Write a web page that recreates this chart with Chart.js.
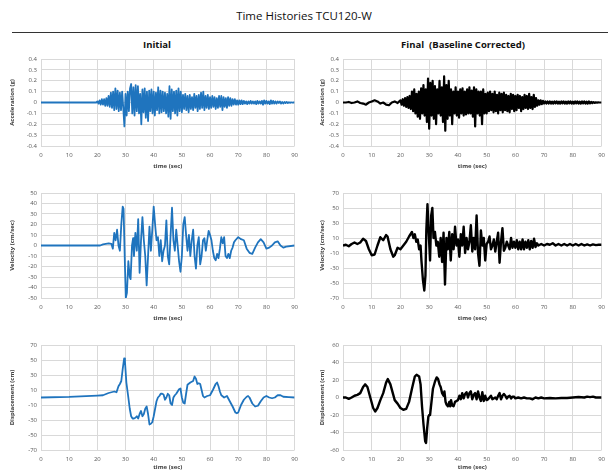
<!DOCTYPE html>
<html><head><meta charset="utf-8">
<script src="https://cdn.jsdelivr.net/npm/chart.js@4"></script>
<style>
html,body{margin:0;padding:0;background:#fff;}
body{width:608px;height:471px;position:relative;overflow:hidden;font-family:"Open Sans",sans-serif;}
.t{position:absolute;white-space:nowrap;color:#111;}
canvas{position:absolute;}
#hr{position:absolute;left:12px;top:32px;width:596px;height:0;border-top:1.5px solid #333;}
</style></head><body>
<div class="t" id="title" style="left:0;width:608px;text-align:center;top:8px;font-size:11.5px;">Time Histories TCU120-W</div>
<div id="hr"></div>
<div class="t" style="left:57px;width:200px;text-align:center;top:38px;font-size:9.5px;font-weight:bold;">Initial</div>
<div class="t" style="left:363px;width:200px;text-align:center;top:38px;font-size:9.5px;font-weight:bold;">Final&nbsp; (Baseline Corrected)</div>
<canvas id="c1"></canvas><canvas id="c2"></canvas>
<canvas id="c3"></canvas><canvas id="c4"></canvas>
<canvas id="c5"></canvas><canvas id="c6"></canvas>
<script>
// ---------- DATA ----------
const timeTicks = [0,10,20,30,40,50,60,70,80,90];

// Initial acceleration (g): zero before 20 s, then samples every 0.4 s from 20 s
const accInitLead = [[0,0],[19.6,0]];
const accInitStart = 20, accInitDt = 0.4;
const accInitVals = [
 0.01,-0.01,0.02,-0.02,0.03,-0.02,0.03,-0.03,0.04,-0.03,
 0.06,-0.04,0.09,-0.05,0.1,-0.07,0.13,-0.06,0.11,-0.08,
 0.09,-0.07,0.1,-0.05,-0.22,0.08,-0.12,0.1,-0.08,0.13,
 0.17,-0.1,0.14,-0.12,0.16,-0.08,0.15,-0.1,0.08,-0.2,
 0.12,-0.09,0.13,-0.14,0.1,-0.17,0.11,-0.08,0.12,-0.1,
 0.1,-0.12,0.09,-0.07,0.14,-0.1,0.11,-0.09,0.1,-0.08,
 0.09,-0.1,0.08,-0.13,0.15,-0.15,0.12,-0.08,0.1,-0.1,
 0.11,-0.12,0.13,-0.08,0.1,-0.09,0.07,-0.06,0.08,-0.07,
 0.06,-0.09,0.07,-0.06,0.05,-0.07,0.08,-0.05,0.06,-0.08,
 0.07,-0.06,0.09,-0.05,0.1,-0.07,0.06,-0.05,0.07,-0.06,
 0.05,-0.05,0.06,-0.04,0.05,-0.06,0.04,-0.05,0.06,-0.04,
 0.06,-0.07,0.05,-0.04,0.04,-0.05,0.05,-0.03,0.04,-0.03,
 0.03,-0.02,0.03,-0.02,0.02,-0.02,0.02,-0.015,0.02,-0.015,
 0.015,-0.01,0.01,-0.015,0.01,-0.01,0.015,-0.01,0.01,-0.01,
 0.01,-0.015,0.015,-0.01,0.01,-0.01,0.015,-0.02,0.02,-0.01,
 0.015,-0.01,0.01,-0.015,0.02,-0.01,0.015,-0.01,0.01,-0.01,
 0.01,-0.005,0.01,-0.01,0.005,-0.01,0.005,-0.005,0.005,-0.005,
 0.003,-0.003,0.002,-0.002,0.001,0
];

// Final acceleration (g)
const accFinalLead = [[0,0],[1,0],[2,0.005],[3,-0.005],[4,0],[5,0.01],[6,-0.005],[7,-0.01],[8,-0.02],[9,0],
 [10,0.01],[11,0.02],[12,0.01],[13,-0.01],[14,0],[15,-0.02],[16,-0.025],[17,0],[18,0.01],[19,-0.005],[19.6,0.01]];
const accFinalStart = 20, accFinalDt = 0.4;
const accFinalVals = [
 0.02,-0.02,0.03,-0.03,0.04,-0.04,0.05,-0.05,0.06,-0.06,
 0.1,-0.08,0.12,-0.1,0.08,-0.13,0.1,-0.15,0.13,-0.1,
 0.16,-0.12,0.12,-0.18,0.22,-0.24,0.18,-0.12,0.2,-0.15,
 0.15,-0.2,0.12,-0.1,0.2,-0.12,0.14,-0.18,0.24,-0.26,
 0.16,-0.15,0.2,-0.12,0.12,-0.2,0.1,-0.1,0.14,-0.12,
 0.1,-0.14,0.12,-0.1,0.13,-0.12,0.1,-0.11,0.12,-0.1,
 0.14,-0.1,0.11,-0.13,0.14,-0.22,0.12,-0.1,0.1,-0.12,
 0.1,-0.2,0.12,-0.1,0.08,-0.1,0.09,-0.08,0.1,-0.07,
 0.08,-0.09,0.1,-0.08,0.07,-0.1,0.09,-0.07,0.08,-0.09,
 0.09,-0.07,0.07,-0.08,0.06,-0.09,0.08,-0.06,0.07,-0.08,
 0.06,-0.07,0.07,-0.05,0.06,-0.08,0.05,-0.06,0.07,-0.05,
 0.06,-0.06,0.08,-0.05,0.05,-0.06,0.07,-0.04,0.04,-0.03,
 0.02,-0.02,0.02,-0.015,0.015,-0.01,0.01,-0.01,0.01,-0.01,
 0.01,-0.01,0.008,-0.01,0.01,-0.008,0.01,-0.01,0.008,-0.01,
 0.01,-0.008,0.01,-0.01,0.008,-0.01,0.01,-0.008,0.01,-0.01,
 0.008,-0.01,0.01,-0.008,0.01,-0.01,0.008,-0.01,0.01,-0.008,
 0.01,-0.01,0.008,-0.01,0.01,-0.008,0.006,-0.006,0.004,-0.004,
 0.002,-0.002,0.001,0,0,0
];

// Initial velocity (cm/sec)
const velInit = [[0,0],[21,0],[22,1],[23,1.5],[24,2],[25,1.5],[25.5,-3],[26,12],[26.5,5],[27,15],[27.5,0],[28,-5],
 [28.5,20],[29,37],[29.3,35],[29.8,-20],[30.1,-50],[30.5,-45],[31,-15],[31.5,-30],[31.8,-32],[32.3,0],[32.7,7],
 [33,-10],[33.5,12],[34,-5],[34.5,25],[35,-26],[35.5,5],[36,27],[36.5,5],[37,-10],[37.5,-38],[38,-10],[38.5,18],
 [39,-5],[39.5,15],[40,37],[40.5,20],[41,5],[41.5,8],[42,-10],[42.5,5],[43,-15],[43.5,-5],[44,0],[44.5,24],
 [45,-10],[45.5,-18],[46,10],[46.5,36],[47,5],[47.5,-5],[48,15],[48.5,0],[49,-15],[49.5,-25],[50,-10],[50.5,20],
 [51,27],[51.5,10],[52,-5],[52.5,10],[53,-10],[53.5,5],[54,15],[54.5,-10],[55,-22],[55.5,0],[56,8],[56.5,-18],
 [57,-10],[57.5,5],[58,7],[58.5,-5],[59,5],[59.5,14],[60,10],[60.5,5],[61,-5],[61.5,-12],[62,-14],[62.5,-8],
 [63,-12],[63.5,-3],[64,8],[64.5,2],[65,8],[65.5,-10],[66,-12],[66.5,-8],[67,-12],[67.5,-5],[68,-2],[68.5,3],
 [69,5],[70,8],[71,6],[72,5],[73,-3],[74,-7],[75,-8],[76,-2],[77,3],[78,6],[79,3],[80,-3],[81,-2],[82,0],
 [83,3],[84,4],[85,0],[86,-2],[87,-1],[90,0]];

// Final velocity (cm/sec)
const velFinal = [[0,0],[1,1],[2,-1],[3,2],[4,4],[5,2],[6,4],[7,9],[8,6],[9,-5],[10,-13],[11,-12],[12,0],[13,11],
 [14,7],[15,14],[15.5,12],[16.5,-5],[17.5,-15],[18,-13],[19,-3],[20,-5],[21,0],[22,5],[23,12],[24,18],[24.5,10],
 [25,15],[25.5,5],[26,8],[26.5,-5],[27,0],[27.3,-20],[27.8,-45],[28.3,-60],[28.7,-40],[29,20],[29.4,55],[29.8,20],
 [30.3,-20],[30.7,40],[31.1,50],[31.5,10],[32,18],[32.5,0],[33,5],[33.5,-15],[34,10],[34.5,-22],[35,17],[35.5,-52],
 [36,10],[36.5,-5],[37,18],[37.5,-20],[38,15],[38.5,-5],[39,25],[39.5,0],[40,8],[40.5,-15],[41,15],[41.5,0],
 [42,25],[42.5,-10],[43,10],[43.5,-5],[44,5],[44.5,27],[45,-8],[45.5,10],[46,-5],[46.5,40],[47,-10],[47.5,-27],
 [48,20],[48.5,0],[49,10],[49.5,-20],[50,2],[50.5,5],[51,12],[51.5,-5],[52,0],[52.5,8],[53,-8],[53.5,5],[54,17],
 [54.5,-23],[55,5],[55.5,23],[56,-7],[56.5,-3],[57,5],[58,-5],[58.5,10],[59,-3],[59.5,5],[60,-3],[60.5,7],[61,-5],
 [61.5,5],[62,-5],[62.5,8],[63,-5],[63.5,5],[64,-3],[64.5,7],[65,-5],[65.5,6],[66,-3],[66.5,9],[67,-2],[67.5,3],
 [68,0],[69,2],[70,0],[71,2],[72,1],[73,3],[74,0],[75,2],[76,0],[77,2],[78,0],[79,2],[80,0],[81,2],[82,0],[83,2],
 [84,0],[85,1.5],[86,0],[87,1.5],[88,0.5],[89,1],[90,1]];

// Initial displacement (cm)
const dispInit = [[0,0],[10,0.8],[20,2.5],[22,3],[24,6],[26,8],[26.8,7],[27.5,15],[28,18],[28.5,22],[29,38],
 [29.5,52],[29.8,48],[30.3,20],[31,0],[31.5,-15],[32,-25],[32.5,-28],[33,-28],[33.5,-27],[34,-25],[34.5,-28],
 [35,-22],[35.5,-18],[36,-25],[36.5,-22],[37,-15],[37.5,-12],[38,-22],[38.5,-36],[39,-35],[39.5,-33],[40,-25],
 [41,-5],[41.5,0],[42,2],[42.5,5],[43,5],[43.5,4],[44,-3],[44.5,0],[45,5],[45.5,3],[46,-8],[46.5,-10],[47,0],
 [47.5,3],[48,5],[48.5,8],[49,11],[49.5,12],[50,0],[50.5,-7],[51,-8],[51.5,5],[52,17],[53,20],[54,22],[54.5,28],
 [55,25],[55.5,18],[56,19],[56.5,18],[57,10],[57.5,2],[58,0],[59,2],[60,3],[61,10],[62,18],[62.5,20],[63,15],
 [63.5,8],[64,3],[65,0],[66,2],[67,-5],[68,-12],[69,-20],[69.5,-21],[70,-20],[71,-10],[72,-3],[73,1],[73.5,2],
 [74,0],[75,-8],[76,-12],[77,-11],[78,-5],[79,0],[80,2],[81,0],[82,-1],[83,0],[84,3],[85,3],[86,1],[88,0.5],[90,0]];

// Final displacement (cm)
const dispFinal = [[0,0],[1,0],[2,-1.5],[3,0],[4,2],[5,3],[6,5],[7,12],[7.7,15],[8.5,12],[9.5,0],[10.5,-12],
 [11.2,-16],[12,-12],[13,-3],[14,5],[15,17],[15.6,21],[16.5,15],[17.5,3],[18,-3],[19,-7],[20,-12],[21,-14],[22,-13],
 [23,-5],[24,10],[25,24],[25.6,26],[26.5,24],[27,15],[27.5,-10],[28,-30],[28.6,-50],[28.9,-52],[29.3,-35],
 [29.7,-22],[30,-20],[30.3,-20],[30.8,-5],[31.3,10],[32,18],[32.6,23],[33.1,21],[33.6,15],[34,12],[34.5,5],[35,2],
 [35.3,7],[35.7,-5],[36,-8],[36.5,-10],[37,-5],[37.3,-10],[37.6,-3],[38,-9],[38.5,-10],[39,-5],[39.5,-4],[40,-3],
 [40.5,2],[41,-2],[41.5,5],[42,-1],[42.5,4],[43,6],[43.5,0],[44,5],[44.5,7],[45,-2],[45.5,3],[46,5],[46.5,-2],
 [47,7],[47.5,0],[48,-4],[48.5,6],[49,-4],[49.5,2],[50,-3],[50.5,-2],[51,0],[51.5,2],[52,-2],[53,0],[53.5,-2],
 [54,2],[54.5,5],[55,-2],[55.5,2],[56,4],[56.5,2],[57,-1],[57.5,1],[58,2],[58.5,-1],[59,1],[59.5,1],[60,-1],
 [61,0],[62,-1],[63,0],[64,-1],[65,-1],[66,-2],[67,0],[68,-1],[69,0],[70,-1],[72,-0.5],[74,-1],[76,-0.5],
 [78,-0.5],[80,0],[82,0.5],[84,0],[85,1],[86,0.5],[87,1],[88,0],[90,0]];

// ---------- BUILD ----------
const pairs = a => a.map(p => ({x:p[0], y:p[1]}));
const sampled = (lead, t0, dt, vals) => pairs(lead).concat(vals.map((v,i)=>({x:+(t0+i*dt).toFixed(2), y:v})));

const BLUE = '#1f74be', BLACK = '#000';
const FONT = '"Open Sans", "Liberation Sans", sans-serif';

function makeChart(id, pos, data, color, width, yMin, yMax, yStep, yTitle, xH) {
  const cv = document.getElementById(id);
  cv.style.left = pos.l + 'px'; cv.style.top = pos.t + 'px';
  cv.width = pos.w; cv.height = pos.h;
  cv.style.width = pos.w + 'px'; cv.style.height = pos.h + 'px';
  return new Chart(cv, {
    type: 'line',
    data: { datasets: [{ data: data, borderColor: color, borderWidth: width, pointRadius: 0, tension: 0, fill: false, borderJoinStyle: 'round' }] },
    options: {
      responsive: false, animation: false, maintainAspectRatio: false,
      layout: { padding: { top: 9, right: pos.pr, left: 0, bottom: 0 } },
      plugins: { legend: { display: false }, tooltip: { enabled: false } },
      scales: {
        x: {
          type: 'linear', min: 0, max: 90,
          afterBuildTicks: s => { s.ticks = timeTicks.map(v => ({ value: v })); },
          afterFit: s => { s.height = xH; },
          grid: { color: '#d9d9d9', lineWidth: 1, drawTicks: false },
          border: { display: false },
          ticks: { font: { family: FONT, size: 6 }, color: '#595959', padding: 6, maxRotation: 0, autoSkip: false },
          title: { display: true, text: 'time (sec)', font: { family: FONT, size: 6, weight: 'bold' }, color: '#404040', padding: { top: 1, bottom: 0 } }
        },
        y: {
          min: yMin, max: yMax,
          afterFit: s => { s.width = 41; },
          grid: { color: '#d9d9d9', lineWidth: 1, drawTicks: false },
          border: { display: false },
          ticks: { stepSize: yStep, font: { family: FONT, size: 6 }, color: '#595959', padding: 4 },
          title: { display: true, text: yTitle, font: { family: FONT, size: 6, weight: 'bold' }, color: '#404040', padding: { top: pos.tp, bottom: 0 } }
        }
      }
    }
  });
}

const L = { l: 0, w: 304, pr: 4, tp: 9 };
const R = { l: 302, w: 309, pr: 4, tp: 17 };

makeChart('c1', Object.assign({ t: 50, h: 120 }, L), sampled(accInitLead, accInitStart, accInitDt, accInitVals), BLUE, 1.8, -0.4, 0.4, 0.1, 'Acceleration (g)', 24);
makeChart('c2', Object.assign({ t: 50, h: 120 }, R), sampled(accFinalLead, accFinalStart, accFinalDt, accFinalVals), BLACK, 2.2, -0.4, 0.4, 0.1, 'Acceleration (g)', 24);
makeChart('c3', Object.assign({ t: 184, h: 138 }, L), pairs(velInit), BLUE, 1.8, -50, 50, 10, 'Velocity (cm/sec)', 24);
makeChart('c4', Object.assign({ t: 184, h: 138 }, R), pairs(velFinal), BLACK, 2.4, -70, 70, 20, 'Velocity (cm/sec)', 24);
makeChart('c5', Object.assign({ t: 336, h: 135 }, L), pairs(dispInit), BLUE, 1.8, -70, 70, 20, 'Displacement (cm)', 21);
makeChart('c6', Object.assign({ t: 336, h: 135 }, R), pairs(dispFinal), BLACK, 2.4, -60, 60, 20, 'Displacement (cm)', 21);
</script>
</body></html>
